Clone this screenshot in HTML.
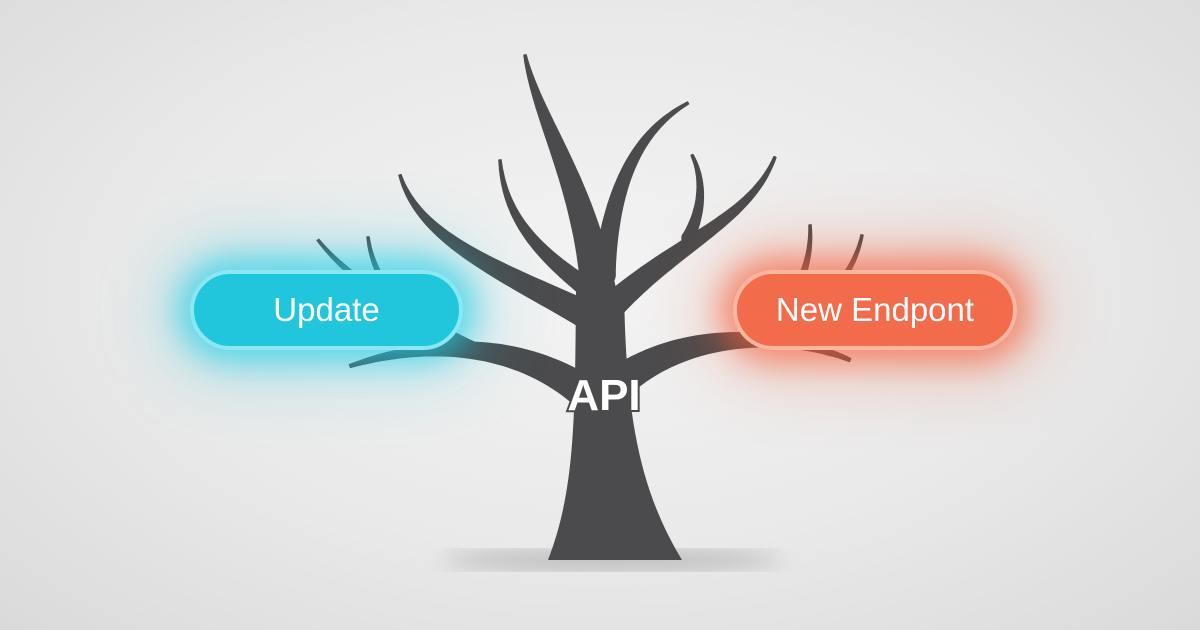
<!DOCTYPE html>
<html><head><style>
html,body{margin:0;padding:0;width:1200px;height:630px;overflow:hidden}
body{background:radial-gradient(ellipse at 50% 45%,#f3f3f3 0%,#e9e9e9 55%,#dadada 100%);font-family:"Liberation Sans",sans-serif;position:relative}
.pill{position:absolute;border-radius:40px;color:#fff;font-size:33px;display:flex;align-items:center;justify-content:center;box-sizing:border-box}
.u{left:190px;top:270px;width:273px;height:80px;background:#22c6dc;border:4px solid #8be8f2;box-shadow:0 0 30px 12px rgba(30,205,230,.6),0 0 70px 25px rgba(30,205,230,.3)}
.n{left:733px;top:270px;width:284px;height:80px;background:#f26b4b;border:4px solid #fbb5a0;box-shadow:0 0 30px 12px rgba(245,95,60,.6),0 0 70px 25px rgba(245,95,60,.3)}
</style></head><body>
<svg width="1200" height="630" style="position:absolute;left:0;top:0">
<defs><filter id="b"><feGaussianBlur stdDeviation="10"/></filter></defs>
<ellipse cx="612" cy="560" rx="170" ry="10" fill="#888" opacity=".5" filter="url(#b)"/>
<g id="tree" fill="#4b4b4d" stroke="#4b4b4d" stroke-width="1.5" stroke-linejoin="round"></g>
<path d="M576 290 L624 290 C626 420 640 490 682 560 L548 560 C575 490 575 420 576 290Z" fill="#4b4b4d"/>
<text x="604" y="410" font-family="Liberation Sans,sans-serif" font-size="44" font-weight="bold" fill="#fff" text-anchor="middle" stroke="#4b4b4d" stroke-width="4" paint-order="stroke">API</text>
</svg>
<div class="pill u">Update</div>
<div class="pill n">New Endpont</div>
<script>
var B=[
[[603,345],[598,200],[540,130],[525,55],42,2],
[[604,275],[612,180],[640,130],[688,103],22,2],
[[597,295],[540,255],[505,220],[500,160],20,2],
[[592,318],[500,270],[420,240],[400,175],28,2],
[[610,308],[680,240],[750,220],[775,157],26,2],
[[688,238],[705,205],[702,175],[692,155],12,2],
[[592,398],[520,340],[430,340],[350,366],34,3],
[[470,348],[400,310],[350,280],[318,240],14,2],
[[432,340],[390,300],[372,270],[368,237],10,2],
[[612,388],[680,330],[780,330],[850,360],34,3],
[[760,334],[800,300],[812,260],[810,225],12,2],
[[790,338],[830,300],[855,270],[862,235],10,2]];
var g=document.getElementById('tree'),ns='http://www.w3.org/2000/svg';
B.forEach(function(b){var p0=b[0],p1=b[1],p2=b[2],p3=b[3],w0=b[4],w1=b[5],L=[],R=[];
for(var i=0;i<=40;i++){var t=i/40,u=1-t;
var x=u*u*u*p0[0]+3*u*u*t*p1[0]+3*u*t*t*p2[0]+t*t*t*p3[0];
var y=u*u*u*p0[1]+3*u*u*t*p1[1]+3*u*t*t*p2[1]+t*t*t*p3[1];
var dx=3*u*u*(p1[0]-p0[0])+6*u*t*(p2[0]-p1[0])+3*t*t*(p3[0]-p2[0]);
var dy=3*u*u*(p1[1]-p0[1])+6*u*t*(p2[1]-p1[1])+3*t*t*(p3[1]-p2[1]);
var l=Math.hypot(dx,dy)||1,w=(w0+(w1-w0)*Math.pow(t,0.8))/2;
L.push((x-dy/l*w).toFixed(1)+','+(y+dx/l*w).toFixed(1));
R.unshift((x+dy/l*w).toFixed(1)+','+(y-dx/l*w).toFixed(1));}
var e=document.createElementNS(ns,'polygon');e.setAttribute('points',L.concat(R).join(' '));g.appendChild(e);
var c=document.createElementNS(ns,'circle');c.setAttribute('cx',p0[0]);c.setAttribute('cy',p0[1]);c.setAttribute('r',w0/2);g.appendChild(c);});
</script>
</body></html>
